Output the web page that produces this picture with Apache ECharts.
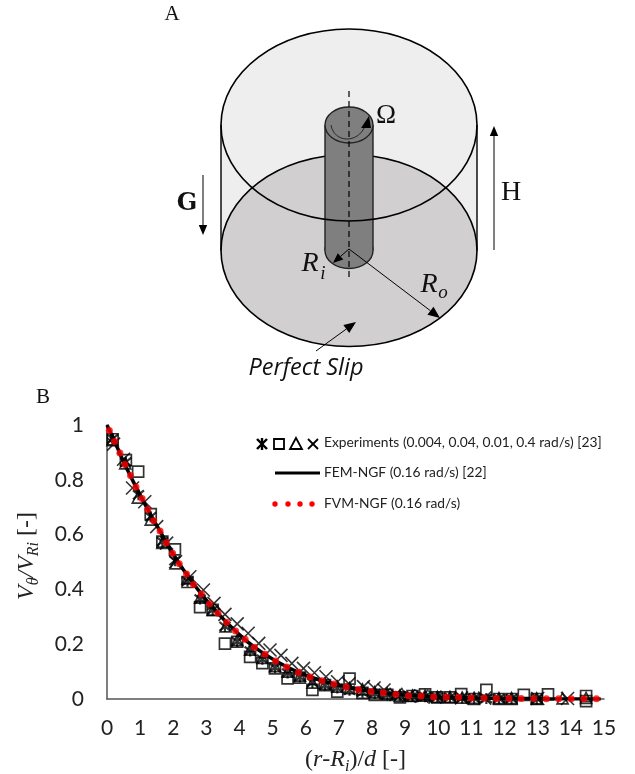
<!DOCTYPE html>
<html><head><meta charset="utf-8">
<style>html,body{margin:0;padding:0;background:#fff}#c{width:635px;height:774px}</style>
<script src="https://cdn.jsdelivr.net/npm/echarts@6/dist/echarts.min.js"></script>
</head><body><div id="c"></div>
<script>
const xTickLabels=[0,1,2,3,4,5,6,7,8,9,10,11,12,13,14,15];
const yTickLabels=[0,0.2,0.4,0.6,0.8,1];
const exp004=[[.17,.95],[.57,.865],[.95,.745],[1.32,.665],[1.67,.575],[2.05,.505],[2.43,.43],[2.81,.365],[3.19,.325],[3.56,.265],[3.93,.21],[4.32,.175],[4.69,.145],[5.07,.115],[5.45,.095],[5.82,.08],[6.2,.06],[6.58,.05],[6.95,.04],[7.32,.032],[7.71,.025],[8.08,.02],[8.46,.015],[8.84,.012],[9.22,.01],[9.6,.008],[9.97,.007],[10.35,.006],[10.72,.004],[11.08,.003],[11.45,.002],[11.83,.002],[12.21,.002],[12.97,.001]];
const exp04=[[.17,.948],[.57,.872],[.94,.83],[1.32,.675],[1.67,.574],[2.05,.546],[2.43,.427],[2.81,.335],[3.19,.325],[3.56,.202],[3.93,.209],[4.32,.154],[4.69,.131],[5.07,.112],[5.45,.075],[5.82,.078],[6.2,.033],[6.58,.051],[6.95,.027],[7.32,.074],[7.71,.022],[8.08,.015],[8.46,.015],[8.84,.006],[9.22,.011],[9.6,.017],[9.97,.006],[10.35,.006],[10.69,.018],[11.08,0],[11.45,.033],[11.83,0],[12.21,0],[12.58,.015],[12.97,0],[13.31,.017],[14.46,.011],[14.46,-.008]];
const exp01=[[.17,.945],[.55,.86],[.93,.735],[1.32,.655],[1.67,.57],[2.07,.495],[2.43,.44],[2.81,.37],[3.19,.325],[3.58,.265],[3.93,.215],[4.32,.18],[4.69,.15],[5.07,.12],[5.45,.1],[5.82,.085],[6.2,.06],[6.58,.055],[6.95,.045],[7.32,.04],[7.71,.035],[8.08,.025],[8.46,.02],[8.84,.012],[9.22,.012],[9.6,.012],[9.97,.008],[10.35,.008],[10.72,.005],[11.08,.004],[11.83,.003],[12.21,.003],[12.97,.002],[13.75,.002],[14.46,.004]];
const exp4=[[.2,.93],[.5,.875],[.77,.77],[1.14,.72],[1.5,.629],[1.8,.569],[2.07,.501],[2.5,.446],[2.91,.398],[3.23,.349],[3.56,.309],[3.93,.274],[4.26,.24],[4.58,.203],[4.92,.179],[5.25,.159],[5.58,.13],[5.93,.112],[6.26,.096],[6.61,.081],[6.96,.063],[7.3,.055],[7.74,.045],[8.06,.04],[8.36,.033],[8.72,.017],[9.1,.012],[9.5,.01],[9.9,.007],[10.7,.004],[11.4,.003],[13,.002],[13.9,.002]];
const femNgf=[[0,1],[.23,.94],[.54,.856],[.875,.774],[1.23,.692],[1.6,.613],[1.98,.532],[2.4,.456],[2.85,.383],[3.35,.313],[3.88,.248],[4.45,.189],[5.09,.139],[5.78,.097],[6.49,.067],[7.22,.044],[7.97,.027],[8.72,.017],[9.48,.011],[10.24,.006],[11,.004],[12.13,.002],[13.26,.001],[14.9,0]];
const fvmNgf=[[.07,.98],[.23,.94],[.39,.898],[.54,.856],[.71,.816],[.875,.774],[1.06,.732],[1.23,.692],[1.41,.651],[1.6,.613],[1.79,.57],[1.98,.532],[2.18,.494],[2.4,.456],[2.61,.418],[2.85,.383],[3.1,.348],[3.35,.313],[3.61,.28],[3.88,.248],[4.17,.218],[4.45,.189],[4.77,.163],[5.09,.139],[5.42,.117],[5.78,.097],[6.13,.08],[6.49,.067],[6.85,.055],[7.22,.044],[7.59,.034],[7.97,.027],[8.34,.023],[8.72,.017],[9.1,.012],[9.48,.011],[9.86,.007],[10.24,.006],[10.61,.006],[10.99,.004],[11.38,.004],[11.75,.002],[12.13,.002],[12.5,.002],[12.88,.002],[13.26,.001],[13.63,.001],[14.01,.001],[14.39,.001],[14.77,.001]];

const MATH='"Liberation Serif",serif', SANS='Lato,sans-serif';
const BLACK='#000';
const starPath='path://M2 2L18 18M18 2L2 18M10 0L10 20';
const xPath='path://M1 1L19 19M19 1L1 19';
function hollow(w){return {color:'rgba(0,0,0,0)',borderColor:BLACK,borderWidth:w};}
function arrowLine(x1,y1,x2,y2,w,head){
  const a=Math.atan2(y2-y1,x2-x1),hl=head,hw=head*.42;
  const bx=x2-Math.cos(a)*hl,by=y2-Math.sin(a)*hl;
  return [
   {type:'line',shape:{x1,y1,x2:bx,y2:by},style:{stroke:BLACK,lineWidth:w}},
   {type:'polygon',shape:{points:[[x2,y2],[bx-Math.sin(a)*hw,by+Math.cos(a)*hw],[bx+Math.sin(a)*hw,by-Math.cos(a)*hw]]},style:{fill:BLACK}}
  ];
}
function label(text,x,y,font,size,extra){
  return {type:'text',x,y,style:Object.assign({text,fontFamily:font,fontSize:size,fill:'#111',textAlign:'center',textVerticalAlign:'middle'},extra||{})};
}
const cx=349,topY=125,botY=250.5,rx=128,ry=96,inRx=24,inRy=18;
const diagram=[
 {type:'rect',shape:{x:cx-rx,y:topY,width:2*rx,height:botY-topY},style:{fill:'#eeeeee'}},
 {type:'ellipse',shape:{cx,cy:topY,rx,ry},style:{fill:'#eeeeee'}},
 {type:'ellipse',shape:{cx,cy:botY,rx,ry},style:{fill:'#d1cfd0',stroke:BLACK,lineWidth:1.6}},
 {type:'line',shape:{x1:cx-rx,y1:topY,x2:cx-rx,y2:botY},style:{stroke:BLACK,lineWidth:1.4}},
 {type:'line',shape:{x1:cx+rx,y1:topY,x2:cx+rx,y2:botY},style:{stroke:BLACK,lineWidth:1.4}},
 {type:'ellipse',shape:{cx,cy:botY,rx:inRx,ry:inRy},style:{fill:'#7f7f7f',stroke:'#222',lineWidth:1.4}},
 {type:'rect',shape:{x:cx-inRx,y:topY,width:2*inRx,height:botY-topY},style:{fill:'#7f7f7f'}},
 {type:'line',shape:{x1:cx-inRx,y1:topY,x2:cx-inRx,y2:botY},style:{stroke:'#222',lineWidth:1.4}},
 {type:'line',shape:{x1:cx+inRx,y1:topY,x2:cx+inRx,y2:botY},style:{stroke:'#222',lineWidth:1.4}},
 {type:'ellipse',shape:{cx,cy:topY,rx,ry},style:{fill:'none',stroke:BLACK,lineWidth:1.6}},
 {type:'ellipse',shape:{cx,cy:topY,rx:inRx,ry:inRy},style:{fill:'#7f7f7f',stroke:'#222',lineWidth:1.4}},
 {type:'line',shape:{x1:cx,y1:91,x2:cx,y2:279},style:{stroke:BLACK,lineWidth:1.2,lineDash:[6,4]}},
 {type:'bezierCurve',shape:{x1:331,y1:125,cpx1:334,cpy1:143,cpx2:358,cpy2:144,x2:365,y2:126},style:{stroke:'#111',lineWidth:.8,fill:'none'}},
 {type:'polygon',shape:{points:[[369,116],[361,128],[371,128]]},style:{fill:BLACK}},
 ...arrowLine(203,175,203,235,1,10),
 ...arrowLine(494,250,494,126,1,10),
 ...arrowLine(349,249,333,263,1,10),
 ...arrowLine(349,249,440,318,1,12),
 ...arrowLine(316,351,356,322,1,12),
 label('A',172,14,MATH,21),
 label('B',43,397,MATH,21),
 label('Ω',386,116,MATH,27),
 label('H',511,193,MATH,28),
 label('G',187,204,'"DejaVu Serif",serif',24,{fontWeight:'bold'}),
 label('R',310,264,MATH,28,{fontStyle:'italic'}),
 label('i',323,274,MATH,19,{fontStyle:'italic'}),
 label('R',429,285,MATH,28,{fontStyle:'italic'}),
 label('o',443,293,MATH,19,{fontStyle:'italic'}),
 label('Perfect Slip',306,368,'"Open Sans",sans-serif',23.5,{fontStyle:'italic'})
];
function ln(pts,w){return {type:'polyline',shape:{points:pts},style:{stroke:BLACK,lineWidth:w,fill:'none'}};}
const legend=[
 ln([[257,439],[267,449]],2.4),ln([[267,439],[257,449]],2.4),ln([[262,438],[262,450]],2.4),
 {type:'rect',shape:{x:274,y:439,width:10,height:10},style:{fill:'none',stroke:BLACK,lineWidth:1.8}},
 {type:'polygon',shape:{points:[[296,438],[302,449],[290,449]]},style:{fill:'none',stroke:BLACK,lineWidth:1.8}},
 ln([[308,439],[318,449]],1.8),ln([[318,439],[308,449]],1.8),
 {type:'line',shape:{x1:275,y1:473,x2:320,y2:473},style:{stroke:BLACK,lineWidth:3}},
 ...[275,288,300,312].map(x=>({type:'circle',shape:{cx:x,cy:504,r:2.7},style:{fill:'#ff0000'}})),
 label('Experiments (0.004, 0.04, 0.01, 0.4 rad/s) [23]',324,443,SANS,13.8,{textAlign:'left',fill:'#222'}),
 label('FEM-NGF (0.16 rad/s) [22]',324,473,SANS,13.8,{textAlign:'left',fill:'#222'}),
 label('FVM-NGF (0.16 rad/s)',324,504,SANS,13.8,{textAlign:'left',fill:'#222'})
];
const axisNameRich={
 m:{fontFamily:MATH,fontSize:24,fontStyle:'italic',color:'#222',lineHeight:30},
 n:{fontFamily:MATH,fontSize:24,color:'#222',lineHeight:30},
 s:{fontFamily:MATH,fontSize:16,fontStyle:'italic',color:'#222',verticalAlign:'bottom',lineHeight:26}
};
const chart=echarts.init(document.getElementById('c'),null,{renderer:'canvas'});
chart.setOption({
 animation:false,
 backgroundColor:'#fff',
 grid:{left:107,right:31,top:425,bottom:75,outerBoundsMode:'none'},
 xAxis:{type:'value',min:0,max:15,interval:1,
  axisLine:{show:true,onZero:false,lineStyle:{color:'#555',width:1.5}},axisTick:{show:false},splitLine:{show:false},
  axisLabel:{fontFamily:SANS,fontSize:21,color:'#222',margin:19},
  name:'{n|(}{m|r}{n|-}{m|R}{s|i}{n|)/}{m|d}{n| [-]}',nameLocation:'middle',nameGap:46,nameTextStyle:{rich:axisNameRich}},
 yAxis:{type:'value',min:0,max:1,interval:.2,
  axisLine:{show:true,onZero:false,lineStyle:{color:'#555',width:1.5}},axisTick:{show:false},splitLine:{show:false},
  axisLabel:{fontFamily:SANS,fontSize:21,color:'#222',margin:23},
  name:'{m|V}{s|θ}{m|/V}{s|Ri}{n| [-]}',nameLocation:'middle',nameGap:65,nameRotate:90,nameTextStyle:{rich:axisNameRich,padding:[0,0,0,12]}},
 series:[
  {name:'Experiments (0.004 rad/s)',type:'scatter',clip:false,data:exp004,symbol:starPath,symbolSize:11,itemStyle:hollow(2.2),z:2},
  {name:'Experiments (0.04 rad/s)',type:'scatter',clip:false,data:exp04,symbol:'rect',symbolSize:11,itemStyle:hollow(1.7),z:2},
  {name:'Experiments (0.01 rad/s)',type:'scatter',clip:false,data:exp01,symbol:'triangle',symbolSize:11,itemStyle:hollow(1.7),z:2},
  {name:'Experiments (0.4 rad/s)',type:'scatter',clip:false,data:exp4,symbol:xPath,symbolSize:13,itemStyle:hollow(1.6),z:2},
  {name:'FEM-NGF (0.16 rad/s)',type:'line',data:femNgf,smooth:true,showSymbol:false,symbol:'none',lineStyle:{color:BLACK,width:3.5},z:3},
  {name:'FVM-NGF (0.16 rad/s)',type:'scatter',clip:false,data:fvmNgf,symbol:'circle',symbolSize:7,itemStyle:{color:'#ff0000'},z:4}
 ],
 graphic:{elements:[{type:'group',silent:true,children:diagram.concat(legend)}]}
});
</script></body></html>
